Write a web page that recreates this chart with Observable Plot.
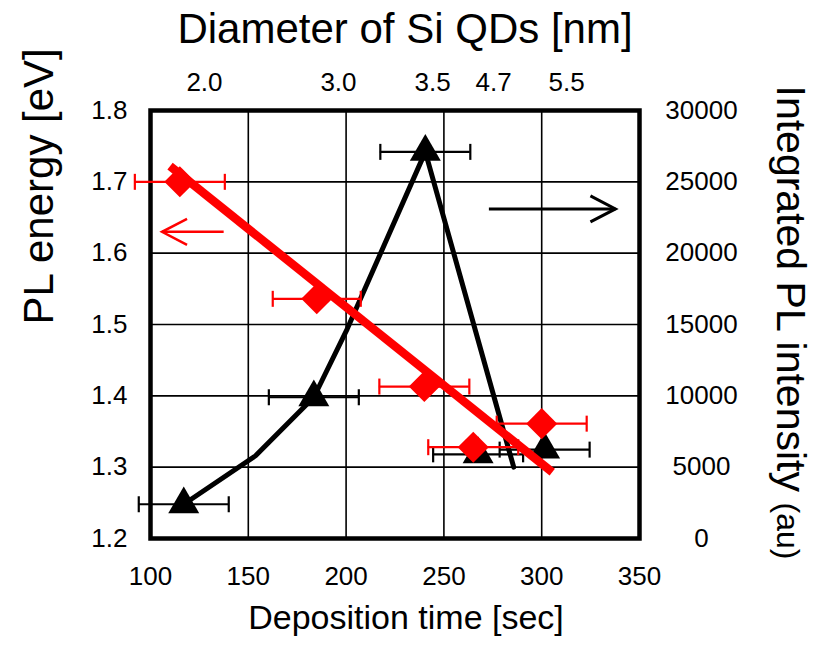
<!DOCTYPE html>
<html>
<head>
<meta charset="utf-8">
<script src="https://cdn.jsdelivr.net/npm/d3@7"></script>
<script src="https://cdn.jsdelivr.net/npm/@observablehq/plot@0.6"></script>
<style>
  body { margin: 0; background: #fff; }
</style>
</head>
<body>
<div id="chart"></div>
<script>
// ---- data ----
const depositionTimeEnergy = [115, 185, 240, 265, 300];
const plEnergy = [1.70, 1.536, 1.413, 1.328, 1.361];
const energyErr = [23, 22.5, 23, 23, 23];

const depositionTimeIntensity = [117, 183.5, 240.5, 267.5, 301.5];
const plIntensity = [2400, 9900, 27100, 5900, 6230];
const intensityErr = [23, 23, 23, 23, 23];

const curveTime = [117, 153.7, 183.5, 200.6, 240.5, 285.7];
const curveIntensity = [2400, 5800, 9900, 14700, 27100, 5000];

const fitTime = [110, 305.4];
const fitEnergy = [1.722, 1.293];

const xTicks = [100, 150, 200, 250, 300, 350];
const energyTicks = [1.2, 1.3, 1.4, 1.5, 1.6, 1.7, 1.8];
const intensityTicks = [0, 5000, 10000, 15000, 20000, 25000, 30000];

const diameterLabels = ["2.0", "3.0", "3.5", "4.7", "5.5"];
const diameterLabelTime = [127.6, 196.1, 244.2, 275.4, 312.7];

const energyArrowTime = [137.4, 105.9];
const energyArrowValue = 1.63;
const intensityArrowTime = [273, 337.7];
const intensityArrowValue = 23100;

// right axis (intensity) mapped onto the left (energy) scale
const intensityMax = 30000;
const toEnergy = v => 1.2 + (v / intensityMax) * 0.6;

const energyData = depositionTimeEnergy.map((t, i) => ({t, v: plEnergy[i], err: energyErr[i]}));
const intensityData = depositionTimeIntensity.map((t, i) => ({t, v: toEnergy(plIntensity[i]), err: intensityErr[i]}));
const curveData = curveTime.map((t, i) => ({t, v: toEnergy(curveIntensity[i])}));
const fitData = fitTime.map((t, i) => ({t, v: fitEnergy[i]}));
const caps = data => data.flatMap(d => [{t: d.t - d.err, v: d.v}, {t: d.t + d.err, v: d.v}]);

const capSymbol = {draw(ctx, size) { const r = Math.sqrt(size / Math.PI); ctx.moveTo(0, -r); ctx.lineTo(0, r); }};
const headSymbol = {draw(ctx, size) { const r = Math.sqrt(size / Math.PI); ctx.moveTo(-r, -0.52 * r); ctx.lineTo(0, 0); ctx.lineTo(-r, 0.52 * r); }};

const RED = "#ff0000";
const font = "'Liberation Sans', Arial, Helvetica, sans-serif";

const chart = Plot.plot({
  width: 813,
  height: 653,
  marginLeft: 150,
  marginRight: 174,
  marginTop: 110,
  marginBottom: 115,
  style: {fontFamily: font, color: "black", background: "white"},
  x: {domain: [100, 350]},
  y: {domain: [1.2, 1.8]},
  marks: [
    // grid
    Plot.ruleX(xTicks, {stroke: "black", strokeWidth: 1.6}),
    Plot.ruleY(energyTicks, {stroke: "black", strokeWidth: 1.6}),
    Plot.frame({stroke: "black", strokeWidth: 4.5}),

    // intensity series (black)
    Plot.line(curveData, {x: "t", y: "v", stroke: "black", strokeWidth: 5, strokeLinejoin: "miter"}),
    Plot.ruleY(intensityData, {y: "v", x1: d => d.t - d.err, x2: d => d.t + d.err, stroke: "black", strokeWidth: 2.2}),
    Plot.dot(caps(intensityData), {x: "t", y: "v", symbol: capSymbol, r: 8, stroke: "black", strokeWidth: 2.2, fill: "none"}),
    Plot.dot(intensityData, {x: "t", y: "v", symbol: "triangle", r: 11.5, fill: "black", stroke: "none"}),

    // energy series (red)
    Plot.line(fitData, {x: "t", y: "v", stroke: RED, strokeWidth: 8.5, strokeLinecap: "butt"}),
    Plot.ruleY(energyData, {y: "v", x1: d => d.t - d.err, x2: d => d.t + d.err, stroke: RED, strokeWidth: 2.2}),
    Plot.dot(caps(energyData), {x: "t", y: "v", symbol: capSymbol, r: 8, stroke: RED, strokeWidth: 2.2, fill: "none"}),
    Plot.dot(energyData, {x: "t", y: "v", symbol: "diamond2", r: 14, fill: RED, stroke: "none"}),

    // arrows
    Plot.link([0], {x1: energyArrowTime[0], x2: energyArrowTime[1], y1: energyArrowValue, y2: energyArrowValue, stroke: RED, strokeWidth: 2.5}),
    Plot.dot([0], {x: energyArrowTime[1], y: energyArrowValue, symbol: headSymbol, r: 25, rotate: 180, stroke: RED, strokeWidth: 2.5, fill: "none"}),
    Plot.link([0], {x1: intensityArrowTime[0], x2: intensityArrowTime[1], y1: toEnergy(intensityArrowValue), y2: toEnergy(intensityArrowValue), stroke: "black", strokeWidth: 3}),
    Plot.dot([0], {x: intensityArrowTime[1], y: toEnergy(intensityArrowValue), symbol: headSymbol, r: 25, stroke: "black", strokeWidth: 3, fill: "none"}),

    // axes
    Plot.axisX({ticks: xTicks, tickSize: 0, tickPadding: 28, fontSize: 26, tickFormat: d => String(d), label: null}),
    Plot.axisY({ticks: energyTicks, tickSize: 0, tickPadding: 23, fontSize: 26, tickFormat: d => d.toFixed(1), label: null}),
    Plot.text(intensityTicks, {y: d => toEnergy(d), text: d => String(d), frameAnchor: "right", dx: 62, textAnchor: "middle", fontSize: 26}),

    // top diameter labels
    Plot.text(diameterLabels, {x: (d, i) => diameterLabelTime[i], text: d => d, frameAnchor: "top", dy: -20, lineAnchor: "bottom", fontSize: 26}),

    // titles
    Plot.text(["Diameter of Si QDs [nm]"], {frameAnchor: "top", dx: 10, dy: -68, lineAnchor: "bottom", fontSize: 42}),
    Plot.text(["Deposition time [sec]"], {frameAnchor: "bottom", dx: 11, dy: 90, lineAnchor: "bottom", fontSize: 34}),
    Plot.text(["PL energy [eV]"], {frameAnchor: "left", dx: -111, rotate: -90, lineAnchor: "middle", fontSize: 42}),
    Plot.text(["Integrated PL intensity"], {frameAnchor: "top-right", dx: 151, dy: -25, rotate: 90, textAnchor: "start", lineAnchor: "middle", fontSize: 41}),
    Plot.text(["(au)"], {frameAnchor: "top-right", dx: 148, dy: 392, rotate: 90, textAnchor: "start", lineAnchor: "middle", fontSize: 32})
  ]
});
document.getElementById("chart").append(chart);
</script>
</body>
</html>
